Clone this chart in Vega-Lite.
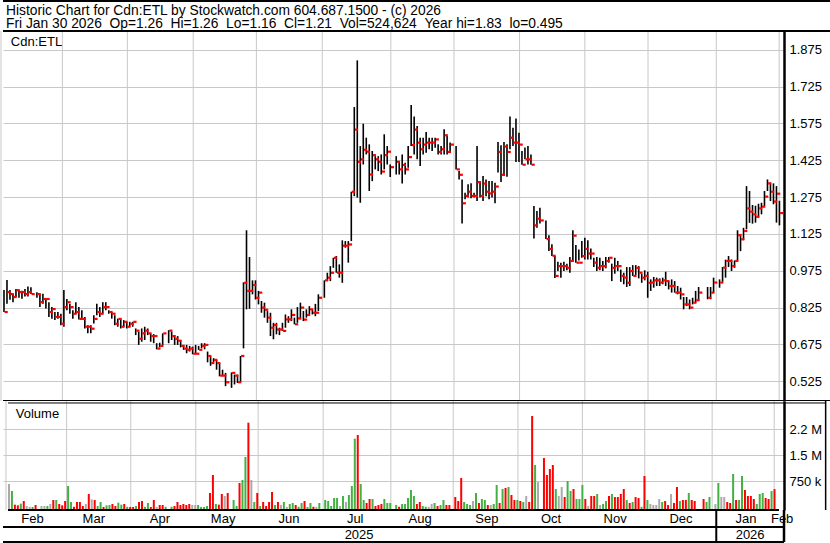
{
"$schema": "https://vega.github.io/schema/vega-lite/v6.json",
"background": "white",
"padding": 0,
"spacing": 0,
"bounds": "flush",
"config": {"view": {"stroke": null}, "font": "Liberation Sans", "text": {"font": "Liberation Sans", "color": "black"}, "axis": {"labelOverlap": false}},
"datasets": {
"bars": [
{"d":0,"h":0.897,"l":0.807,"c":0.807,"v":672000,"s":"n"},
{"d":1,"h":0.937,"l":0.841,"c":0.888,"v":470000,"s":"u"},
{"d":2,"h":0.897,"l":0.857,"c":0.880,"v":76000,"s":"d"},
{"d":3,"h":0.881,"l":0.847,"c":0.868,"v":57000,"s":"d"},
{"d":4,"h":0.901,"l":0.868,"c":0.896,"v":105000,"s":"u"},
{"d":5,"h":0.897,"l":0.865,"c":0.888,"v":182000,"s":"d"},
{"d":6,"h":0.894,"l":0.861,"c":0.888,"v":37000,"s":"n"},
{"d":7,"h":0.901,"l":0.870,"c":0.880,"v":15000,"s":"n"},
{"d":8,"h":0.911,"l":0.870,"c":0.888,"v":8000,"s":"u"},
{"d":9,"h":0.908,"l":0.880,"c":0.880,"v":66000,"s":"d"},
{"d":11,"h":0.888,"l":0.865,"c":0.880,"v":37000,"s":"n"},
{"d":12,"h":0.881,"l":0.827,"c":0.847,"v":37000,"s":"n"},
{"d":13,"h":0.881,"l":0.841,"c":0.860,"v":37000,"s":"u"},
{"d":14,"h":0.860,"l":0.821,"c":0.860,"v":95000,"s":"n"},
{"d":15,"h":0.847,"l":0.787,"c":0.807,"v":211000,"s":"d"},
{"d":16,"h":0.827,"l":0.780,"c":0.819,"v":211000,"s":"u"},
{"d":17,"h":0.807,"l":0.774,"c":0.787,"v":95000,"s":"d"},
{"d":18,"h":0.807,"l":0.780,"c":0.787,"v":57000,"s":"d"},
{"d":19,"h":0.800,"l":0.753,"c":0.759,"v":182000,"s":"d"},
{"d":20,"h":0.897,"l":0.747,"c":0.827,"v":614000,"s":"u"},
{"d":21,"h":0.860,"l":0.814,"c":0.847,"v":153000,"s":"u"},
{"d":22,"h":0.841,"l":0.800,"c":0.827,"v":15000,"s":"d"},
{"d":23,"h":0.814,"l":0.780,"c":0.800,"v":153000,"s":"d"},
{"d":24,"h":0.847,"l":0.800,"c":0.807,"v":153000,"s":"d"},
{"d":25,"h":0.827,"l":0.776,"c":0.779,"v":37000,"s":"d"},
{"d":26,"h":0.814,"l":0.776,"c":0.779,"v":95000,"s":"n"},
{"d":27,"h":0.787,"l":0.740,"c":0.747,"v":384000,"s":"d"},
{"d":28,"h":0.753,"l":0.720,"c":0.747,"v":230000,"s":"n"},
{"d":29,"h":0.753,"l":0.720,"c":0.739,"v":211000,"s":"d"},
{"d":30,"h":0.794,"l":0.760,"c":0.779,"v":37000,"s":"u"},
{"d":31,"h":0.841,"l":0.794,"c":0.807,"v":153000,"s":"u"},
{"d":32,"h":0.827,"l":0.787,"c":0.800,"v":8000,"s":"d"},
{"d":33,"h":0.847,"l":0.800,"c":0.827,"v":57000,"s":"u"},
{"d":34,"h":0.847,"l":0.814,"c":0.827,"v":66000,"s":"u"},
{"d":35,"h":0.814,"l":0.800,"c":0.807,"v":95000,"s":"d"},
{"d":36,"h":0.807,"l":0.780,"c":0.800,"v":37000,"s":"d"},
{"d":37,"h":0.794,"l":0.753,"c":0.759,"v":134000,"s":"u"},
{"d":38,"h":0.780,"l":0.747,"c":0.779,"v":76000,"s":"u"},
{"d":39,"h":0.780,"l":0.740,"c":0.747,"v":95000,"s":"d"},
{"d":40,"h":0.774,"l":0.747,"c":0.767,"v":15000,"s":"u"},
{"d":41,"h":0.767,"l":0.740,"c":0.747,"v":8000,"s":"d"},
{"d":42,"h":0.767,"l":0.747,"c":0.759,"v":8000,"s":"d"},
{"d":43,"h":0.767,"l":0.747,"c":0.767,"v":37000,"s":"u"},
{"d":44,"h":0.740,"l":0.713,"c":0.731,"v":153000,"s":"d"},
{"d":45,"h":0.727,"l":0.673,"c":0.698,"v":182000,"s":"d"},
{"d":46,"h":0.740,"l":0.686,"c":0.720,"v":15000,"s":"u"},
{"d":47,"h":0.747,"l":0.693,"c":0.731,"v":124000,"s":"u"},
{"d":48,"h":0.740,"l":0.713,"c":0.720,"v":8000,"s":"d"},
{"d":49,"h":0.720,"l":0.686,"c":0.709,"v":211000,"s":"d"},
{"d":50,"h":0.717,"l":0.680,"c":0.709,"v":8000,"s":"n"},
{"d":51,"h":0.680,"l":0.655,"c":0.658,"v":66000,"s":"d"},
{"d":52,"h":0.682,"l":0.663,"c":0.669,"v":66000,"s":"d"},
{"d":53,"h":0.720,"l":0.673,"c":0.720,"v":15000,"s":"u"},
{"d":55,"h":0.733,"l":0.680,"c":0.731,"v":15000,"s":"u"},
{"d":56,"h":0.727,"l":0.693,"c":0.709,"v":37000,"s":"d"},
{"d":57,"h":0.713,"l":0.673,"c":0.698,"v":153000,"s":"d"},
{"d":58,"h":0.709,"l":0.673,"c":0.690,"v":66000,"s":"d"},
{"d":59,"h":0.693,"l":0.663,"c":0.669,"v":95000,"s":"d"},
{"d":60,"h":0.673,"l":0.653,"c":0.658,"v":66000,"s":"d"},
{"d":61,"h":0.673,"l":0.639,"c":0.653,"v":95000,"s":"d"},
{"d":62,"h":0.669,"l":0.646,"c":0.658,"v":66000,"s":"n"},
{"d":63,"h":0.666,"l":0.635,"c":0.637,"v":66000,"s":"n"},
{"d":64,"h":0.673,"l":0.637,"c":0.637,"v":66000,"s":"u"},
{"d":65,"h":0.669,"l":0.653,"c":0.653,"v":8000,"s":"u"},
{"d":66,"h":0.680,"l":0.659,"c":0.669,"v":8000,"s":"u"},
{"d":67,"h":0.680,"l":0.655,"c":0.673,"v":37000,"s":"u"},
{"d":68,"h":0.646,"l":0.602,"c":0.628,"v":412000,"s":"d"},
{"d":69,"h":0.626,"l":0.588,"c":0.599,"v":932000,"s":"d"},
{"d":70,"h":0.619,"l":0.602,"c":0.612,"v":95000,"s":"u"},
{"d":71,"h":0.612,"l":0.572,"c":0.599,"v":76000,"s":"d"},
{"d":72,"h":0.599,"l":0.545,"c":0.548,"v":384000,"s":"d"},
{"d":73,"h":0.572,"l":0.545,"c":0.548,"v":326000,"s":"n"},
{"d":74,"h":0.559,"l":0.505,"c":0.521,"v":412000,"s":"d"},
{"d":76,"h":0.561,"l":0.498,"c":0.559,"v":211000,"s":"u"},
{"d":77,"h":0.552,"l":0.512,"c":0.548,"v":37000,"s":"u"},
{"d":78,"h":0.552,"l":0.518,"c":0.521,"v":701000,"s":"d"},
{"d":79,"h":0.628,"l":0.521,"c":0.628,"v":787000,"s":"u"},
{"d":80,"h":0.928,"l":0.659,"c":0.926,"v":1451000,"s":"u"},
{"d":81,"h":1.140,"l":0.818,"c":0.893,"v":2441000,"s":"d"},
{"d":82,"h":1.031,"l":0.820,"c":0.893,"v":787000,"s":"n"},
{"d":83,"h":0.936,"l":0.879,"c":0.917,"v":153000,"s":"u"},
{"d":84,"h":0.936,"l":0.858,"c":0.865,"v":412000,"s":"d"},
{"d":85,"h":0.893,"l":0.838,"c":0.886,"v":37000,"s":"u"},
{"d":86,"h":0.852,"l":0.804,"c":0.825,"v":153000,"s":"d"},
{"d":87,"h":0.845,"l":0.784,"c":0.816,"v":37000,"s":"d"},
{"d":88,"h":0.811,"l":0.763,"c":0.784,"v":153000,"s":"d"},
{"d":89,"h":0.804,"l":0.709,"c":0.743,"v":441000,"s":"d"},
{"d":90,"h":0.763,"l":0.696,"c":0.754,"v":66000,"s":"u"},
{"d":91,"h":0.763,"l":0.716,"c":0.736,"v":153000,"s":"d"},
{"d":92,"h":0.743,"l":0.713,"c":0.736,"v":66000,"s":"n"},
{"d":93,"h":0.763,"l":0.730,"c":0.730,"v":153000,"s":"u"},
{"d":94,"h":0.797,"l":0.743,"c":0.777,"v":8000,"s":"n"},
{"d":95,"h":0.790,"l":0.763,"c":0.777,"v":95000,"s":"u"},
{"d":96,"h":0.818,"l":0.770,"c":0.795,"v":124000,"s":"u"},
{"d":97,"h":0.784,"l":0.757,"c":0.757,"v":66000,"s":"d"},
{"d":98,"h":0.827,"l":0.763,"c":0.781,"v":15000,"s":"u"},
{"d":99,"h":0.845,"l":0.777,"c":0.825,"v":124000,"s":"u"},
{"d":100,"h":0.811,"l":0.770,"c":0.776,"v":182000,"s":"d"},
{"d":101,"h":0.818,"l":0.784,"c":0.795,"v":8000,"s":"u"},
{"d":102,"h":0.831,"l":0.797,"c":0.818,"v":124000,"s":"u"},
{"d":103,"h":0.818,"l":0.797,"c":0.804,"v":15000,"s":"d"},
{"d":104,"h":0.840,"l":0.790,"c":0.804,"v":15000,"s":"n"},
{"d":105,"h":0.879,"l":0.811,"c":0.865,"v":124000,"s":"u"},
{"d":107,"h":0.936,"l":0.865,"c":0.936,"v":211000,"s":"u"},
{"d":108,"h":0.967,"l":0.933,"c":0.947,"v":182000,"s":"u"},
{"d":109,"h":0.994,"l":0.933,"c":0.967,"v":37000,"s":"u"},
{"d":110,"h":1.028,"l":0.987,"c":1.028,"v":268000,"s":"u"},
{"d":111,"h":1.035,"l":0.967,"c":0.967,"v":268000,"s":"u"},
{"d":112,"h":1.001,"l":0.947,"c":0.967,"v":37000,"s":"n"},
{"d":113,"h":1.099,"l":0.926,"c":1.077,"v":326000,"s":"u"},
{"d":114,"h":1.096,"l":1.069,"c":1.077,"v":153000,"s":"n"},
{"d":115,"h":1.096,"l":1.008,"c":1.082,"v":355000,"s":"u"},
{"d":116,"h":1.297,"l":1.096,"c":1.297,"v":614000,"s":"u"},
{"d":117,"h":1.642,"l":1.279,"c":1.550,"v":1979000,"s":"u"},
{"d":118,"h":1.832,"l":1.273,"c":1.419,"v":2085000,"s":"d"},
{"d":119,"h":1.483,"l":1.252,"c":1.429,"v":672000,"s":"u"},
{"d":120,"h":1.574,"l":1.408,"c":1.468,"v":211000,"s":"u"},
{"d":121,"h":1.517,"l":1.449,"c":1.460,"v":124000,"s":"d"},
{"d":122,"h":1.490,"l":1.300,"c":1.367,"v":239000,"s":"d"},
{"d":123,"h":1.463,"l":1.340,"c":1.446,"v":239000,"s":"u"},
{"d":124,"h":1.442,"l":1.388,"c":1.429,"v":37000,"s":"d"},
{"d":125,"h":1.442,"l":1.381,"c":1.419,"v":66000,"s":"d"},
{"d":126,"h":1.449,"l":1.367,"c":1.379,"v":95000,"s":"d"},
{"d":127,"h":1.531,"l":1.388,"c":1.446,"v":239000,"s":"u"},
{"d":128,"h":1.483,"l":1.408,"c":1.460,"v":124000,"s":"u"},
{"d":129,"h":1.408,"l":1.357,"c":1.397,"v":124000,"s":"u"},
{"d":131,"h":1.442,"l":1.367,"c":1.419,"v":66000,"s":"u"},
{"d":132,"h":1.422,"l":1.367,"c":1.388,"v":15000,"s":"d"},
{"d":133,"h":1.449,"l":1.330,"c":1.406,"v":95000,"s":"u"},
{"d":134,"h":1.415,"l":1.367,"c":1.388,"v":95000,"s":"u"},
{"d":135,"h":1.483,"l":1.395,"c":1.438,"v":268000,"s":"u"},
{"d":136,"h":1.650,"l":1.483,"c":1.487,"v":499000,"s":"u"},
{"d":137,"h":1.603,"l":1.449,"c":1.550,"v":326000,"s":"u"},
{"d":138,"h":1.565,"l":1.429,"c":1.497,"v":95000,"s":"d"},
{"d":139,"h":1.517,"l":1.402,"c":1.470,"v":153000,"s":"d"},
{"d":140,"h":1.517,"l":1.449,"c":1.489,"v":37000,"s":"u"},
{"d":141,"h":1.540,"l":1.456,"c":1.497,"v":15000,"s":"u"},
{"d":142,"h":1.517,"l":1.470,"c":1.497,"v":15000,"s":"n"},
{"d":143,"h":1.517,"l":1.463,"c":1.497,"v":95000,"s":"n"},
{"d":144,"h":1.517,"l":1.476,"c":1.510,"v":124000,"s":"u"},
{"d":145,"h":1.490,"l":1.449,"c":1.459,"v":37000,"s":"d"},
{"d":146,"h":1.483,"l":1.449,"c":1.470,"v":66000,"s":"u"},
{"d":147,"h":1.551,"l":1.449,"c":1.527,"v":211000,"s":"u"},
{"d":148,"h":1.524,"l":1.449,"c":1.459,"v":66000,"s":"d"},
{"d":149,"h":1.497,"l":1.456,"c":1.489,"v":66000,"s":"d"},
{"d":151,"h":1.483,"l":1.388,"c":1.388,"v":297000,"s":"d"},
{"d":152,"h":1.381,"l":1.347,"c":1.366,"v":182000,"s":"d"},
{"d":153,"h":1.347,"l":1.168,"c":1.250,"v":845000,"s":"d"},
{"d":154,"h":1.293,"l":1.266,"c":1.280,"v":153000,"s":"u"},
{"d":155,"h":1.327,"l":1.273,"c":1.297,"v":95000,"s":"u"},
{"d":156,"h":1.331,"l":1.270,"c":1.280,"v":66000,"s":"u"},
{"d":157,"h":1.293,"l":1.273,"c":1.280,"v":182000,"s":"n"},
{"d":158,"h":1.483,"l":1.259,"c":1.336,"v":412000,"s":"u"},
{"d":159,"h":1.341,"l":1.273,"c":1.280,"v":124000,"s":"d"},
{"d":160,"h":1.361,"l":1.259,"c":1.330,"v":239000,"s":"u"},
{"d":161,"h":1.347,"l":1.279,"c":1.297,"v":211000,"s":"u"},
{"d":162,"h":1.341,"l":1.266,"c":1.290,"v":66000,"s":"d"},
{"d":163,"h":1.341,"l":1.273,"c":1.297,"v":66000,"s":"n"},
{"d":164,"h":1.334,"l":1.250,"c":1.318,"v":95000,"s":"u"},
{"d":165,"h":1.500,"l":1.375,"c":1.459,"v":643000,"s":"u"},
{"d":166,"h":1.486,"l":1.337,"c":1.366,"v":124000,"s":"d"},
{"d":167,"h":1.500,"l":1.361,"c":1.481,"v":528000,"s":"u"},
{"d":168,"h":1.490,"l":1.358,"c":1.459,"v":557000,"s":"d"},
{"d":169,"h":1.603,"l":1.470,"c":1.517,"v":586000,"s":"u"},
{"d":170,"h":1.558,"l":1.483,"c":1.497,"v":355000,"s":"d"},
{"d":171,"h":1.595,"l":1.418,"c":1.497,"v":211000,"s":"d"},
{"d":172,"h":1.537,"l":1.418,"c":1.489,"v":211000,"s":"u"},
{"d":173,"h":1.463,"l":1.407,"c":1.407,"v":182000,"s":"d"},
{"d":174,"h":1.477,"l":1.429,"c":1.429,"v":153000,"s":"u"},
{"d":175,"h":1.483,"l":1.408,"c":1.429,"v":326000,"s":"n"},
{"d":176,"h":1.449,"l":1.407,"c":1.407,"v":153000,"s":"d"},
{"d":177,"h":1.239,"l":1.106,"c":1.160,"v":2634000,"s":"d"},
{"d":178,"h":1.218,"l":1.150,"c":1.187,"v":1220000,"s":"u"},
{"d":179,"h":1.232,"l":1.168,"c":1.180,"v":730000,"s":"n"},
{"d":181,"h":1.180,"l":1.104,"c":1.104,"v":1422000,"s":"d"},
{"d":182,"h":1.120,"l":1.056,"c":1.064,"v":932000,"s":"d"},
{"d":183,"h":1.083,"l":1.035,"c":1.036,"v":1105000,"s":"d"},
{"d":184,"h":1.035,"l":0.946,"c":0.954,"v":1220000,"s":"d"},
{"d":185,"h":1.012,"l":0.974,"c":0.994,"v":528000,"s":"u"},
{"d":186,"h":1.008,"l":0.947,"c":0.994,"v":326000,"s":"n"},
{"d":187,"h":1.012,"l":0.974,"c":0.994,"v":586000,"s":"n"},
{"d":188,"h":1.004,"l":0.977,"c":0.987,"v":297000,"s":"d"},
{"d":189,"h":1.031,"l":0.967,"c":1.015,"v":759000,"s":"u"},
{"d":190,"h":1.140,"l":1.012,"c":1.118,"v":470000,"s":"u"},
{"d":191,"h":1.080,"l":1.008,"c":1.008,"v":528000,"s":"d"},
{"d":192,"h":1.062,"l":1.017,"c":1.008,"v":239000,"s":"u"},
{"d":193,"h":1.096,"l":1.028,"c":1.035,"v":239000,"s":"u"},
{"d":194,"h":1.110,"l":1.021,"c":1.064,"v":643000,"s":"u"},
{"d":195,"h":1.099,"l":1.021,"c":1.045,"v":239000,"s":"d"},
{"d":196,"h":1.066,"l":1.021,"c":1.045,"v":37000,"s":"n"},
{"d":197,"h":1.028,"l":0.990,"c":1.008,"v":326000,"s":"d"},
{"d":198,"h":1.031,"l":0.974,"c":0.987,"v":326000,"s":"d"},
{"d":199,"h":1.028,"l":0.977,"c":0.994,"v":384000,"s":"u"},
{"d":200,"h":1.015,"l":0.974,"c":0.994,"v":66000,"s":"n"},
{"d":201,"h":1.031,"l":0.985,"c":1.015,"v":95000,"s":"u"},
{"d":202,"h":1.031,"l":1.008,"c":1.028,"v":182000,"s":"u"},
{"d":203,"h":1.004,"l":0.933,"c":0.987,"v":326000,"s":"d"},
{"d":204,"h":1.028,"l":0.963,"c":0.994,"v":384000,"s":"u"},
{"d":205,"h":1.015,"l":0.974,"c":0.994,"v":297000,"s":"d"},
{"d":206,"h":0.980,"l":0.930,"c":0.954,"v":297000,"s":"d"},
{"d":207,"h":0.967,"l":0.920,"c":0.947,"v":384000,"s":"d"},
{"d":208,"h":0.990,"l":0.909,"c":0.926,"v":528000,"s":"d"},
{"d":209,"h":0.990,"l":0.913,"c":0.974,"v":211000,"s":"u"},
{"d":210,"h":0.998,"l":0.954,"c":0.954,"v":124000,"s":"d"},
{"d":211,"h":0.998,"l":0.958,"c":0.987,"v":153000,"s":"u"},
{"d":212,"h":0.994,"l":0.944,"c":0.967,"v":297000,"s":"d"},
{"d":213,"h":0.963,"l":0.926,"c":0.947,"v":268000,"s":"d"},
{"d":214,"h":0.977,"l":0.936,"c":0.954,"v":15000,"s":"u"},
{"d":215,"h":0.971,"l":0.865,"c":0.926,"v":903000,"s":"d"},
{"d":216,"h":0.940,"l":0.893,"c":0.927,"v":211000,"s":"u"},
{"d":217,"h":0.950,"l":0.906,"c":0.936,"v":95000,"s":"n"},
{"d":218,"h":0.947,"l":0.913,"c":0.936,"v":66000,"s":"n"},
{"d":219,"h":0.944,"l":0.913,"c":0.927,"v":66000,"s":"n"},
{"d":220,"h":0.947,"l":0.920,"c":0.936,"v":239000,"s":"n"},
{"d":221,"h":0.971,"l":0.913,"c":0.933,"v":153000,"s":"u"},
{"d":222,"h":0.933,"l":0.899,"c":0.913,"v":182000,"s":"d"},
{"d":223,"h":0.940,"l":0.886,"c":0.913,"v":66000,"s":"d"},
{"d":224,"h":0.933,"l":0.886,"c":0.886,"v":384000,"s":"n"},
{"d":225,"h":0.913,"l":0.879,"c":0.886,"v":124000,"s":"d"},
{"d":226,"h":0.906,"l":0.858,"c":0.879,"v":586000,"s":"d"},
{"d":227,"h":0.868,"l":0.818,"c":0.838,"v":182000,"s":"u"},
{"d":228,"h":0.868,"l":0.831,"c":0.838,"v":211000,"s":"d"},
{"d":229,"h":0.858,"l":0.818,"c":0.825,"v":211000,"s":"d"},
{"d":230,"h":0.865,"l":0.838,"c":0.845,"v":412000,"s":"u"},
{"d":231,"h":0.893,"l":0.845,"c":0.855,"v":211000,"s":"d"},
{"d":232,"h":0.909,"l":0.852,"c":0.886,"v":182000,"s":"d"},
{"d":235,"h":0.909,"l":0.859,"c":0.865,"v":239000,"s":"d"},
{"d":236,"h":0.909,"l":0.859,"c":0.886,"v":153000,"s":"u"},
{"d":237,"h":0.947,"l":0.886,"c":0.927,"v":297000,"s":"u"},
{"d":239,"h":0.940,"l":0.906,"c":0.927,"v":95000,"s":"n"},
{"d":240,"h":0.990,"l":0.930,"c":0.988,"v":701000,"s":"u"},
{"d":241,"h":1.020,"l":0.947,"c":1.015,"v":297000,"s":"n"},
{"d":242,"h":1.035,"l":0.990,"c":1.015,"v":297000,"s":"n"},
{"d":243,"h":1.021,"l":0.974,"c":0.994,"v":153000,"s":"d"},
{"d":244,"h":1.017,"l":0.987,"c":1.015,"v":124000,"s":"d"},
{"d":245,"h":1.140,"l":1.015,"c":1.120,"v":961000,"s":"u"},
{"d":246,"h":1.125,"l":1.055,"c":1.103,"v":211000,"s":"d"},
{"d":247,"h":1.150,"l":1.100,"c":1.137,"v":211000,"s":"u"},
{"d":248,"h":1.320,"l":1.144,"c":1.229,"v":903000,"s":"u"},
{"d":249,"h":1.300,"l":1.170,"c":1.216,"v":499000,"s":"d"},
{"d":250,"h":1.243,"l":1.167,"c":1.205,"v":326000,"s":"d"},
{"d":251,"h":1.240,"l":1.171,"c":1.195,"v":326000,"s":"d"},
{"d":252,"h":1.248,"l":1.191,"c":1.229,"v":239000,"s":"d"},
{"d":253,"h":1.252,"l":1.205,"c":1.236,"v":95000,"s":"u"},
{"d":254,"h":1.300,"l":1.239,"c":1.277,"v":384000,"s":"u"},
{"d":255,"h":1.347,"l":1.300,"c":1.331,"v":412000,"s":"u"},
{"d":256,"h":1.334,"l":1.259,"c":1.297,"v":268000,"s":"d"},
{"d":257,"h":1.331,"l":1.246,"c":1.257,"v":239000,"s":"d"},
{"d":258,"h":1.320,"l":1.171,"c":1.289,"v":470000,"s":"u"},
{"d":259,"h":1.260,"l":1.160,"c":1.210,"v":524624,"s":"d"}
],
"months": [
{"m":"Feb","g":-1,"c":9.5},
{"m":"Mar","g":19.5,"c":30},
{"m":"Apr","g":41.2,"c":52.1},
{"m":"May","g":63.2,"c":73.2},
{"m":"Jun","g":84.3,"c":95.2},
{"m":"Jul","g":106.3,"c":117.3},
{"m":"Aug","g":129.2,"c":139},
{"m":"Sep","g":150.3,"c":161.3},
{"m":"Oct","g":172.2,"c":182.7},
{"m":"Nov","g":194,"c":204.1},
{"m":"Dec","g":215.1,"c":226.1},
{"m":"Jan","g":237.9,"c":247.8},
{"m":"Feb","g":258.9,"c":259.9}
],
"years": [
{"y":"2025","c":118.6},
{"y":"2026","c":249.2}
]
},
"vconcat": [
{
"width": 781, "height": 30,
"layer": [
{"data": {"values": [{"t": "Historic Chart for Cdn:ETL by Stockwatch.com 604.687.1500 - (c) 2026"}]}, "mark": {"type": "text", "align": "left", "baseline": "middle", "fontSize": 13.8, "font": "Liberation Sans", "color": "black"},
 "encoding": {"x": {"datum": 0.67, "type": "quantitative", "scale": {"domain": [-0.33, 260.52], "nice": false, "zero": false}, "axis": null}, "y": {"datum": 0.672, "type": "quantitative", "scale": {"domain": [0, 1]}, "axis": null}, "text": {"field": "t"}}},
{"data": {"values": [{"t": "Fri Jan 30 2026 \u00a0Op=1.26 \u00a0Hi=1.26 \u00a0Lo=1.16 \u00a0Cl=1.21 \u00a0Vol=524,624 \u00a0Year hi=1.83 \u00a0lo=0.495"}]}, "mark": {"type": "text", "align": "left", "baseline": "middle", "fontSize": 13.8, "font": "Liberation Sans", "color": "black"},
 "encoding": {"x": {"datum": 0.67, "type": "quantitative"}, "y": {"datum": 0.225, "type": "quantitative"}, "text": {"field": "t"}}},
{"data": {"values": [{}]}, "mark": {"type": "rule", "color": "black", "strokeWidth": 2},
 "encoding": {"x": {"datum": -0.33, "type": "quantitative"}, "x2": {"datum": 276.3}, "y": {"datum": 1, "type": "quantitative"}}},
{"data": {"values": [{}]}, "mark": {"type": "rule", "color": "black", "strokeWidth": 1.5},
 "encoding": {"x": {"datum": 276.3, "type": "quantitative"}, "y": {"datum": 0, "type": "quantitative"}, "y2": {"datum": 1}}}
]
},
{
"width": 781, "height": 370,
"layer": [
{"data": {"name": "months"}, "mark": {"type": "rule", "color": "#c8c8c8", "strokeWidth": 1},
 "encoding": {"x": {"field": "g", "type": "quantitative", "scale": {"domain": [-0.33, 260.52], "nice": false, "zero": false}, "axis": null}}},
{"data": {"name": "bars"}, "mark": {"type": "rule", "color": "black", "strokeWidth": 1.6},
 "encoding": {"x": {"field": "d", "type": "quantitative", "axis": null},
  "y": {"field": "l", "type": "quantitative", "scale": {"domain": [0.4445, 1.9517], "nice": false, "zero": false},
   "axis": {"orient": "right", "values": [0.525,0.6,0.675,0.75,0.825,0.9,0.975,1.05,1.125,1.2,1.275,1.35,1.425,1.5,1.575,1.65,1.725,1.8,1.875],
    "labelExpr": "round(datum.value*1000)%10==0 ? format(datum.value,'.2f') : format(datum.value,'.3f')",
    "grid": true, "gridColor": "#c8c8c8", "gridWidth": 1, "ticks": false, "domain": true, "domainColor": "black", "domainWidth": 2.5,
    "labelFont": "Liberation Sans", "labelFontSize": 13, "labelColor": "black", "labelPadding": 5, "labelFlush": false, "labelOverlap": false, "labelBound": false, "title": null}},
  "y2": {"field": "h"}}},
{"data": {"name": "bars"}, "mark": {"type": "rule", "color": "#ff0000", "strokeWidth": 2.2, "xOffset": 0.6, "x2Offset": 3.8},
 "encoding": {"x": {"field": "d", "type": "quantitative", "axis": null}, "x2": {"field": "d"}, "y": {"field": "c", "type": "quantitative"}}},
{"data": {"values": [{"t": "Cdn:ETL"}]}, "mark": {"type": "text", "align": "left", "baseline": "middle", "fontSize": 13, "font": "Liberation Sans", "color": "black"},
 "encoding": {"x": {"datum": 2.3, "type": "quantitative"}, "y": {"datum": 1.907, "type": "quantitative"}, "text": {"field": "t"}}},
{"data": {"values": [{}]}, "mark": {"type": "rule", "color": "black", "strokeWidth": 2},
 "encoding": {"x": {"datum": -0.33, "type": "quantitative"}, "x2": {"datum": 276.3}, "y": {"datum": 1.9517, "type": "quantitative"}}},
{"data": {"values": [{}]}, "mark": {"type": "rule", "color": "black", "strokeWidth": 1},
 "encoding": {"x": {"datum": -0.33, "type": "quantitative"}, "x2": {"datum": 276.3}, "y": {"datum": 0.4465, "type": "quantitative"}}},
{"data": {"values": [{}]}, "mark": {"type": "rule", "color": "black", "strokeWidth": 1.5},
 "encoding": {"x": {"datum": 276.3, "type": "quantitative"}, "y": {"datum": 0.4445, "type": "quantitative"}, "y2": {"datum": 1.9517}}}
]
},
{
"width": 781, "height": 109,
"layer": [
{"data": {"name": "months"}, "mark": {"type": "rule", "color": "#c8c8c8", "strokeWidth": 1},
 "encoding": {"x": {"field": "g", "type": "quantitative", "scale": {"domain": [-0.33, 260.52], "nice": false, "zero": false}, "axis": null}}},
{"data": {"name": "bars"}, "mark": {"type": "bar", "size": 2},
 "encoding": {"x": {"field": "d", "type": "quantitative", "axis": null},
  "y": {"field": "v", "type": "quantitative", "scale": {"domain": [-77900, 3066000], "nice": false, "zero": false},
   "axis": {"orient": "right", "values": [750000, 1500000, 2250000],
    "labelExpr": "datum.value < 1000000 ? '750 k' : (datum.value < 2000000 ? '1.5 M' : '2.2 M')",
    "grid": true, "gridColor": "#c8c8c8", "gridWidth": 1, "ticks": false, "domain": true, "domainColor": "black", "domainWidth": 2.5,
    "labelFont": "Liberation Sans", "labelFontSize": 13, "labelColor": "black", "labelPadding": 5, "labelFlush": false, "labelOverlap": false, "labelBound": false, "title": null}},
  "y2": {"datum": -77900},
  "color": {"field": "s", "type": "nominal", "scale": {"domain": ["u", "d", "n"], "range": ["#44b044", "#ff0000", "#aaaaaa"]}, "legend": null}}},
{"data": {"values": [{"t": "Volume"}]}, "mark": {"type": "text", "align": "left", "baseline": "middle", "fontSize": 13, "font": "Liberation Sans", "color": "black"},
 "encoding": {"x": {"datum": 2.3, "type": "quantitative"}, "y": {"datum": 2690000, "type": "quantitative"}, "text": {"field": "t"}}},
{"data": {"values": [{}]}, "mark": {"type": "rule", "color": "black", "strokeWidth": 1},
 "encoding": {"x": {"datum": -0.33, "type": "quantitative"}, "x2": {"datum": 276.3}, "y": {"datum": 3009000, "type": "quantitative"}}},
{"data": {"values": [{}]}, "mark": {"type": "rule", "color": "black", "strokeWidth": 2},
 "encoding": {"x": {"datum": -0.33, "type": "quantitative"}, "x2": {"datum": 260.52}, "y": {"datum": -77900, "type": "quantitative"}}},
{"data": {"values": [{}]}, "mark": {"type": "rule", "color": "black", "strokeWidth": 1.5},
 "encoding": {"x": {"datum": 276.3, "type": "quantitative"}, "y": {"datum": -77900, "type": "quantitative"}, "y2": {"datum": 3066000}}}
]
},
{
"width": 781, "height": 17,
"layer": [
{"data": {"name": "months"}, "mark": {"type": "text", "baseline": "middle", "align": "center", "fontSize": 13, "font": "Liberation Sans", "color": "black"},
 "encoding": {"x": {"field": "c", "type": "quantitative", "scale": {"domain": [-0.33, 260.52], "nice": false, "zero": false}, "axis": null},
  "y": {"datum": 0.5, "type": "quantitative", "scale": {"domain": [0, 1]}, "axis": null}, "text": {"field": "m"}}},
{"data": {"values": [{}]}, "mark": {"type": "rule", "color": "black", "strokeWidth": 2},
 "encoding": {"x": {"datum": -0.33, "type": "quantitative"}, "x2": {"datum": 260.52}, "y": {"datum": 0, "type": "quantitative"}}},
{"data": {"values": [{}]}, "mark": {"type": "rule", "color": "black", "strokeWidth": 2},
 "encoding": {"x": {"datum": 237.9, "type": "quantitative"}, "y": {"datum": 0, "type": "quantitative"}, "y2": {"datum": 1}}},
{"data": {"values": [{}]}, "mark": {"type": "rule", "color": "black", "strokeWidth": 2.5},
 "encoding": {"x": {"datum": 260.52, "type": "quantitative"}, "y": {"datum": 0, "type": "quantitative"}, "y2": {"datum": 1}}}
]
},
{
"width": 781, "height": 15,
"layer": [
{"data": {"name": "years"}, "mark": {"type": "text", "baseline": "middle", "align": "center", "fontSize": 13, "font": "Liberation Sans", "color": "black"},
 "encoding": {"x": {"field": "c", "type": "quantitative", "scale": {"domain": [-0.33, 260.52], "nice": false, "zero": false}, "axis": null},
  "y": {"datum": 0.5, "type": "quantitative", "scale": {"domain": [0, 1]}, "axis": null}, "text": {"field": "y"}}},
{"data": {"values": [{}]}, "mark": {"type": "rule", "color": "black", "strokeWidth": 2},
 "encoding": {"x": {"datum": -0.33, "type": "quantitative"}, "x2": {"datum": 260.52}, "y": {"datum": 0, "type": "quantitative"}}},
{"data": {"values": [{}]}, "mark": {"type": "rule", "color": "black", "strokeWidth": 2},
 "encoding": {"x": {"datum": 237.9, "type": "quantitative"}, "y": {"datum": 0, "type": "quantitative"}, "y2": {"datum": 1}}},
{"data": {"values": [{}]}, "mark": {"type": "rule", "color": "black", "strokeWidth": 2.5},
 "encoding": {"x": {"datum": 260.52, "type": "quantitative"}, "y": {"datum": 0, "type": "quantitative"}, "y2": {"datum": 1}}}
]
}
]
}
